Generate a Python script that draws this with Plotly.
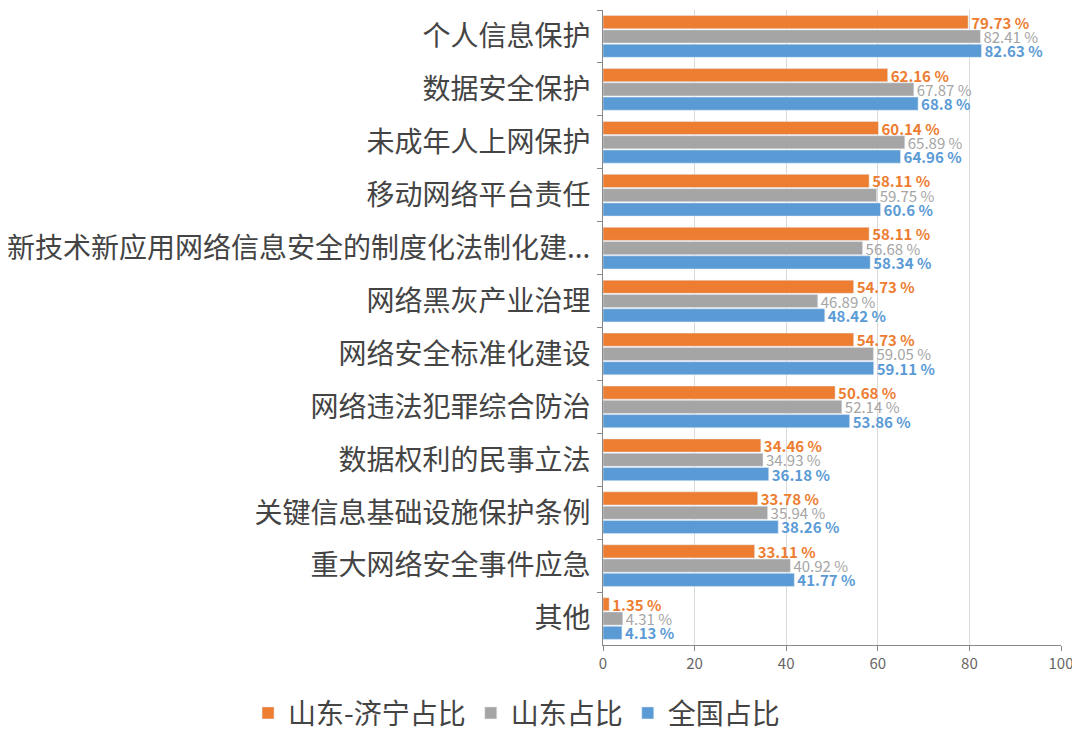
import plotly.graph_objects as go

categories = ["个人信息保护", "数据安全保护", "未成年人上网保护", "移动网络平台责任",
              "新技术新应用网络信息安全的制度化法制化建...", "网络黑灰产业治理", "网络安全标准化建设",
              "网络违法犯罪综合防治", "数据权利的民事立法", "关键信息基础设施保护条例",
              "重大网络安全事件应急", "其他"]
jining = [79.73, 62.16, 60.14, 58.11, 58.11, 54.73, 54.73, 50.68, 34.46, 33.78, 33.11, 1.35]
shandong = [82.41, 67.87, 65.89, 59.75, 56.68, 46.89, 59.05, 52.14, 34.93, 35.94, 40.92, 4.31]
national = [82.63, 68.8, 64.96, 60.6, 58.34, 48.42, 59.11, 53.86, 36.18, 38.26, 41.77, 4.13]
series_names = ["山东-济宁占比", "山东占比", "全国占比"]
colors = ["#ED7D31", "#A5A5A5", "#5B9BD5"]
bold = [True, False, True]

FONT = "Noto Sans CJK SC"
fig = go.Figure()
for name, vals, c, b in zip(series_names, [jining, shandong, national], colors, bold):
    fig.add_trace(go.Bar(
        y=categories, x=vals, name=name, orientation="h",
        marker=dict(color=c),
        text=[f"<b>{v:g} %</b>" if b else f"{v:g} %" for v in vals],
        textposition="outside", cliponaxis=False, constraintext="none",
        textfont=dict(color=c, size=15, family=FONT),
    ))

fig.update_layout(
    width=1064, height=725,
    margin=dict(l=595, r=11, t=2, b=88, autoexpand=False),
    barmode="group", bargap=0.19, bargroupgap=0.08,
    plot_bgcolor="white", paper_bgcolor="white",
    font=dict(family=FONT, color="#444"),
    legend=dict(orientation="h", x=-0.775, xanchor="left",
                y=-0.068, yanchor="top", maxheight=120,
                font=dict(size=28, color="#444"), traceorder="normal"),
    showlegend=True,
)
fig.update_xaxes(range=[0, 100], dtick=20, showgrid=True, gridcolor="#D9D9D9",
                 showline=True, linecolor="#888", ticks="outside", ticklen=5, tickcolor="#888",
                 ticklabeloverflow="allow",
                 tickfont=dict(size=15, color="#666"), zeroline=False, automargin=False)
fig.update_yaxes(autorange="reversed", showline=True, linecolor="#888", ticks="outside",
                 tickson="boundaries", ticklen=5, tickcolor="#888", automargin=False,
                 ticklabelstandoff=6,
                 tickfont=dict(size=28, color="#444"))
fig.write_html("out.html")
